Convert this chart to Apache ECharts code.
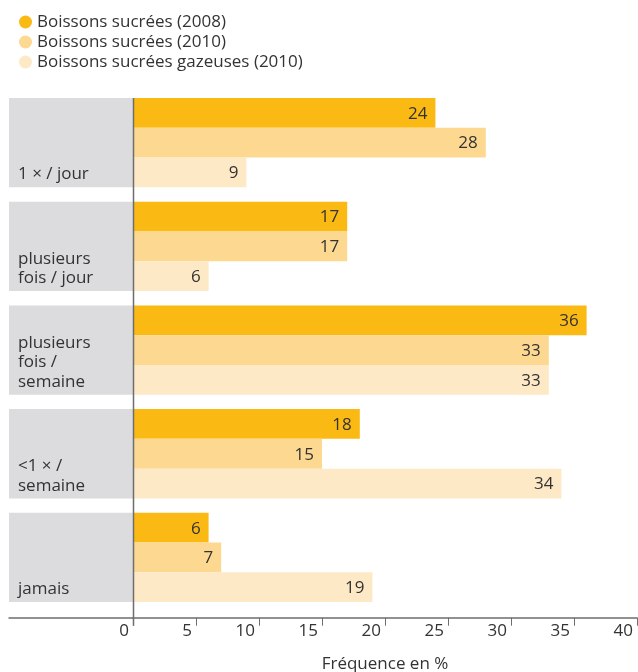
<!DOCTYPE html>
<html>
<head>
<meta charset="utf-8">
<script src="https://cdn.jsdelivr.net/npm/echarts@6/dist/echarts.min.js"></script>
<style>
  html, body { margin: 0; padding: 0; background: #ffffff; }
  #chart { width: 638px; height: 672px; }
</style>
</head>
<body>
<div id="chart"></div>
<script>
// Frequency categories (top to bottom)
const categories = ['1 × / jour', 'plusieurs\nfois / jour', 'plusieurs\nfois /\nsemaine', '<1 × /\nsemaine', 'jamais'];

// Percent of respondents per frequency
const sucrees2008 = [24, 17, 36, 18, 6];
const sucrees2010 = [28, 17, 33, 15, 7];
const gazeuses2010 = [9, 6, 33, 34, 19];

const seriesNames = ['Boissons sucrées (2008)', 'Boissons sucrées (2010)', 'Boissons sucrées gazeuses (2010)'];
const seriesColors = ['#fbb913', '#fdd891', '#fee9c6'];

// Grey panel behind every category name (full width of the left panel)
const panelFill = categories.map(() => 1);

// Layout
const FONT = '"Open Sans", Roboto, sans-serif';
const FONT_SIZE = 17;
const TEXT = '#333333';
const AXIS = '#6e6e6e';
const PANEL_LEFT = 9;
const PLOT_LEFT = 133;
const PLOT_WIDTH = 504;
const BAND = 103.7;
const BAR = 29.77;
const GRID_TOP = 98 - (BAND - 3 * BAR) / 2;
const GRID_HEIGHT = BAND * categories.length;
const AXIS_OFFSET = 8.4;

const chart = echarts.init(document.getElementById('chart'), null, { renderer: 'canvas' });

const valueSeries = [sucrees2008, sucrees2010, gazeuses2010].map((values, i) => ({
  name: seriesNames[i],
  type: 'bar',
  xAxisIndex: 1,
  yAxisIndex: 1,
  data: values,
  barWidth: BAR,
  barGap: '0%',
  itemStyle: { color: seriesColors[i] },
  label: {
    show: true,
    position: 'insideRight',
    distance: 8,
    offset: [0, 1],
    color: TEXT,
    fontFamily: FONT,
    fontSize: FONT_SIZE
  },
  silent: true
}));

chart.setOption({
  animation: false,
  backgroundColor: '#ffffff',
  textStyle: { fontFamily: FONT },
  legend: {
    data: seriesNames,
    orient: 'vertical',
    left: 14,
    top: 7,
    itemGap: 0,
    itemWidth: 13,
    itemHeight: 13,
    icon: 'circle',
    textStyle: { fontFamily: FONT, fontSize: FONT_SIZE, color: TEXT, lineHeight: 20 }
  },
  grid: [
    { left: PANEL_LEFT, width: PLOT_LEFT - PANEL_LEFT, top: GRID_TOP, height: GRID_HEIGHT, outerBoundsMode: 'none' },
    { left: PLOT_LEFT, width: PLOT_WIDTH, top: GRID_TOP, height: GRID_HEIGHT, outerBoundsMode: 'none' }
  ],
  xAxis: [
    {
      gridIndex: 0, type: 'value', min: 0, max: 1,
      offset: AXIS_OFFSET,
      axisLine: { show: true, lineStyle: { color: AXIS, width: 1.5 } },
      axisTick: { show: false }, axisLabel: { show: false }, splitLine: { show: false }
    },
    {
      gridIndex: 1, type: 'value', min: 0, max: 40, interval: 5,
      offset: AXIS_OFFSET,
      name: 'Fréquence en %',
      nameLocation: 'middle',
      nameGap: 38,
      nameTextStyle: { fontFamily: FONT, fontSize: FONT_SIZE, color: TEXT },
      axisLine: { show: true, lineStyle: { color: AXIS, width: 1.5 } },
      axisTick: { show: true, length: 8, lineStyle: { color: AXIS, width: 1 } },
      axisLabel: {
        color: TEXT, fontFamily: FONT, fontSize: FONT_SIZE,
        align: 'right', margin: 5, padding: [0, 4, 0, 0]
      },
      splitLine: { show: false }
    }
  ],
  yAxis: [
    {
      gridIndex: 0, type: 'category', data: categories, inverse: true,
      axisLine: { show: false }, axisTick: { show: false }, axisLabel: { show: false }
    },
    {
      gridIndex: 1, type: 'category', data: categories, inverse: true,
      axisLine: { show: false }, axisTick: { show: false }, axisLabel: { show: false }
    }
  ],
  series: [
    {
      name: 'panel',
      type: 'bar',
      xAxisIndex: 0,
      yAxisIndex: 0,
      data: panelFill,
      barWidth: 3 * BAR,
      itemStyle: { color: '#dcdcde' },
      label: {
        show: true,
        position: 'insideBottomLeft',
        distance: 9,
        offset: [0, 6],
        formatter: (p) => p.name,
        color: TEXT,
        fontFamily: FONT,
        fontSize: FONT_SIZE,
        lineHeight: 19.5
      },
      silent: true
    },
    ...valueSeries
  ],
  graphic: [
    {
      // vertical baseline of the plot, running from the first bar down through the x axis ticks
      type: 'line',
      silent: true,
      z: 10,
      shape: {
        x1: PLOT_LEFT + 0.5, y1: 98,
        x2: PLOT_LEFT + 0.5, y2: GRID_TOP + GRID_HEIGHT + AXIS_OFFSET + 8
      },
      style: { stroke: AXIS, lineWidth: 1.5 }
    }
  ]
});
</script>
</body>
</html>
